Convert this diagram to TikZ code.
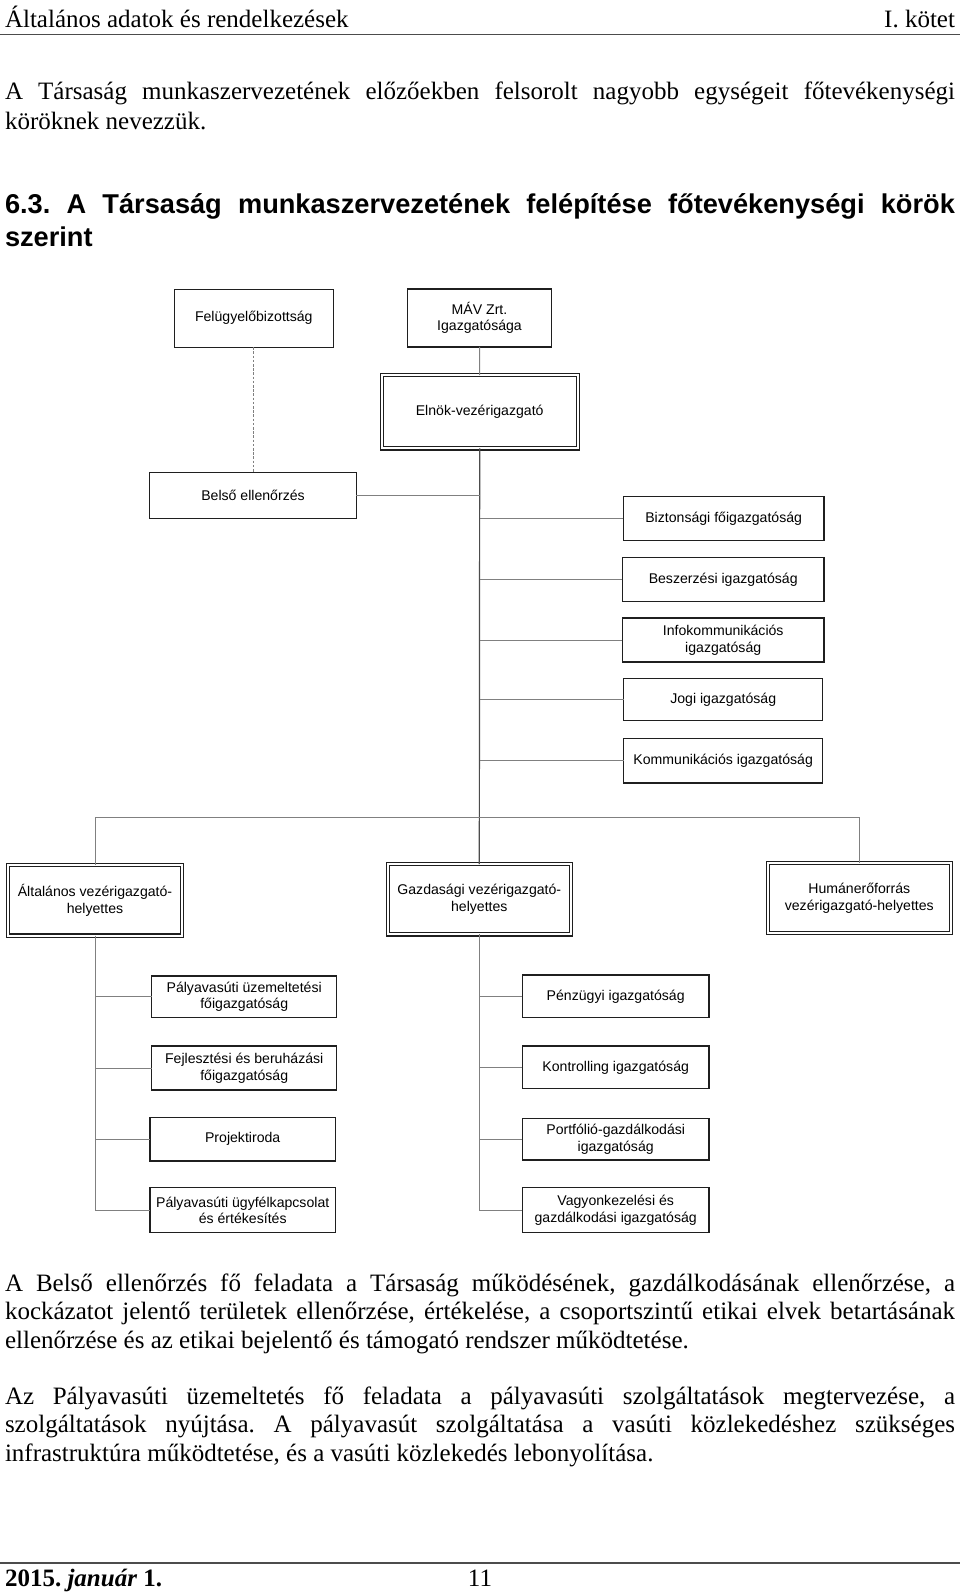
\documentclass[tikz,border=0pt]{standalone}
\usepackage{fontspec}
\setmainfont{Liberation Serif}
\newfontfamily\chartfont{Liberation Sans}
\newfontfamily\headfont{Liberation Sans}
\newcommand\bodyfs{\fontsize{12.5pt}{14.25pt}\selectfont}
\newcommand\headfs{\headfont\bfseries\fontsize{13.6pt}{16pt}\selectfont}
\newcommand\jline[1]{\makebox[475pt][s]{#1}}
\frenchspacing
\begin{document}
\frenchspacing
\begin{tikzpicture}[x=0.5pt,y=-0.5pt,
  sz/.style 2 args={minimum width=#1*0.5pt, minimum height=#2*0.5pt},
  box/.style={draw=black!88, line width=0.6pt, inner sep=0pt, outer sep=0pt,
    align=center, font=\chartfont\fontsize{7.05pt}{8.3pt}\selectfont},
  dbox/.style={box, line width=0.55pt, double=white, double distance=1.05pt},
  conn/.style={draw=black!50, line width=0.45pt},
  spine/.style={draw=black!70, line width=0.6pt},
  dash line/.style={conn, dash pattern=on 1.3pt off 0.8pt},
  rule/.style={draw=black!70, line width=0.75pt},
  txt/.style={anchor=base west, inner sep=0pt, outer sep=0pt, font=\bodyfs\frenchspacing},
  htxt/.style={anchor=base west, inner sep=0pt, outer sep=0pt, font=\headfs\frenchspacing}]
\fill[white] (0,0) rectangle (960,1593);
\useasboundingbox (0,0) rectangle (960,1593);

% header
\node[txt] (hl) at (5,27.5) {Általános adatok és rendelkezések};
\node[txt, anchor=base east] (hr) at (955,27.5) {I. kötet};
\coordinate (r1a) at (0,34.5);
\coordinate (r1b) at (960,34.5);
\draw[rule] (r1a) -- (r1b);

% paragraph 1
\node[txt] (p1a) at (5,100) {\jline{A Társaság munkaszervezetének előzőekben felsorolt nagyobb egységeit főtevékenységi}};
\node[txt] (p1b) at (5,129.5) {köröknek nevezzük.};

% heading
\node[htxt] (h1) at (5,214) {\jline{6.3. A Társaság munkaszervezetének felépítése főtevékenységi körök}};
\node[htxt] (h2) at (5,246.5) {szerint};

% chart boxes
\node[box, sz={159}{58}] (felugy) at (253.8,318.2) {Felügyelőbizottság};
\node[box, sz={144.4}{58}] (mav) at (479.5,318) {MÁV Zrt.\\Igazgatósága};
\node[dbox, sz={196}{73.3}] (elnok) at (479.7,411.7) {Elnök-vezérigazgató};
\node[box, sz={206.7}{46}] (belso) at (253,495.3) {Belső ellenőrzés};
\node[box, sz={200.7}{44}] (bizt) at (723.7,518.7) {Biztonsági főigazgatóság};
\node[box, sz={201.7}{44}] (besz) at (723.2,579.3) {Beszerzési igazgatóság};
\node[box, sz={201.7}{44}] (info) at (723.2,640) {Infokommunikációs\\igazgatóság};
\node[box, sz={199}{42.4}] (jogi) at (723.2,699.5) {Jogi igazgatóság};
\node[box, sz={199}{44.3}] (komm) at (723.2,760.8) {Kommunikációs igazgatóság};

\node[dbox, sz={174.6}{70.6}] (alt) at (95,900.3) {Általános vezérigazgató-\\helyettes};
\node[dbox, sz={183.3}{70.3}] (gazd) at (479.3,899.2) {Gazdasági vezérigazgató-\\helyettes};
\node[dbox, sz={183.3}{70.6}] (hum) at (859.3,898) {Humánerőforrás\\vezérigazgató-helyettes};

\node[box, sz={185}{41.7}] (puz) at (244.2,996.8) {Pályavasúti üzemeltetési\\főigazgatóság};
\node[box, sz={185}{44}] (fejl) at (244.2,1068) {Fejlesztési és beruházási\\főigazgatóság};
\node[box, sz={185.3}{43.7}] (proj) at (242.7,1139.2) {Projektiroda};
\node[box, sz={185.3}{45}] (ugyf) at (242.7,1210.2) {Pályavasúti ügyfélkapcsolat\\és értékesítés};

\node[box, sz={186.7}{42.7}] (penz) at (615.7,996.3) {Pénzügyi igazgatóság};
\node[box, sz={186.7}{42.7}] (kont) at (615.7,1067.3) {Kontrolling igazgatóság};
\node[box, sz={186.7}{41.3}] (port) at (615.7,1139.3) {Portfólió-gazdálkodási\\igazgatóság};
\node[box, sz={186.7}{45}] (vagy) at (615.7,1210.2) {Vagyonkezelési és\\gazdálkodási igazgatóság};

% connectors
\draw[conn] (mav) -- (elnok);
\draw[dash line] (felugy.south) -- (felugy.south |- belso.north);
\draw[spine] (elnok.south) -- (gazd.north);
\draw[conn] (belso.east) -- (belso.east -| elnok.south);
\foreach \b in {bizt,besz,info,jogi,komm}
  \draw[conn] (\b.west) -- (\b.west -| elnok.south);
\coordinate (bus) at (479.5,817.5);
\draw[conn] (alt.north) |- (bus) -| (hum.north);
\draw[conn] (alt.south) |- (ugyf.west);
\foreach \b in {puz,fejl,proj}
  \draw[conn] (\b.west) -- (\b.west -| alt.south);
\draw[conn] (gazd.south) |- (vagy.west);
\foreach \b in {penz,kont,port}
  \draw[conn] (\b.west) -- (\b.west -| gazd.south);

% paragraph 2
\node[txt] (p2a) at (5,1291) {\jline{A Belső ellenőrzés fő feladata a Társaság működésének, gazdálkodásának ellenőrzése, a}};
\node[txt] (p2b) at (5,1319.5) {\jline{kockázatot jelentő területek ellenőrzése, értékelése, a csoportszintű etikai elvek betartásának}};
\node[txt] (p2c) at (5,1348) {ellenőrzése és az etikai bejelentő és támogató rendszer működtetése.};

% paragraph 3
\node[txt] (p3a) at (5,1404) {\jline{Az Pályavasúti üzemeltetés fő feladata a pályavasúti szolgáltatások megtervezése, a}};
\node[txt] (p3b) at (5,1432.5) {\jline{szolgáltatások nyújtása. A pályavasút szolgáltatása a vasúti közlekedéshez szükséges}};
\node[txt] (p3c) at (5,1461) {infrastruktúra működtetése, és a vasúti közlekedés lebonyolítása.};

% footer
\coordinate (r2a) at (0,1563);
\coordinate (r2b) at (960,1563);
\draw[rule] (r2a) -- (r2b);
\node[txt] (fl) at (5,1586) {\textbf{2015. \textit{január} 1.}};
\node[txt, anchor=base] (fc) at (480,1586) {11};
\end{tikzpicture}
\end{document}
